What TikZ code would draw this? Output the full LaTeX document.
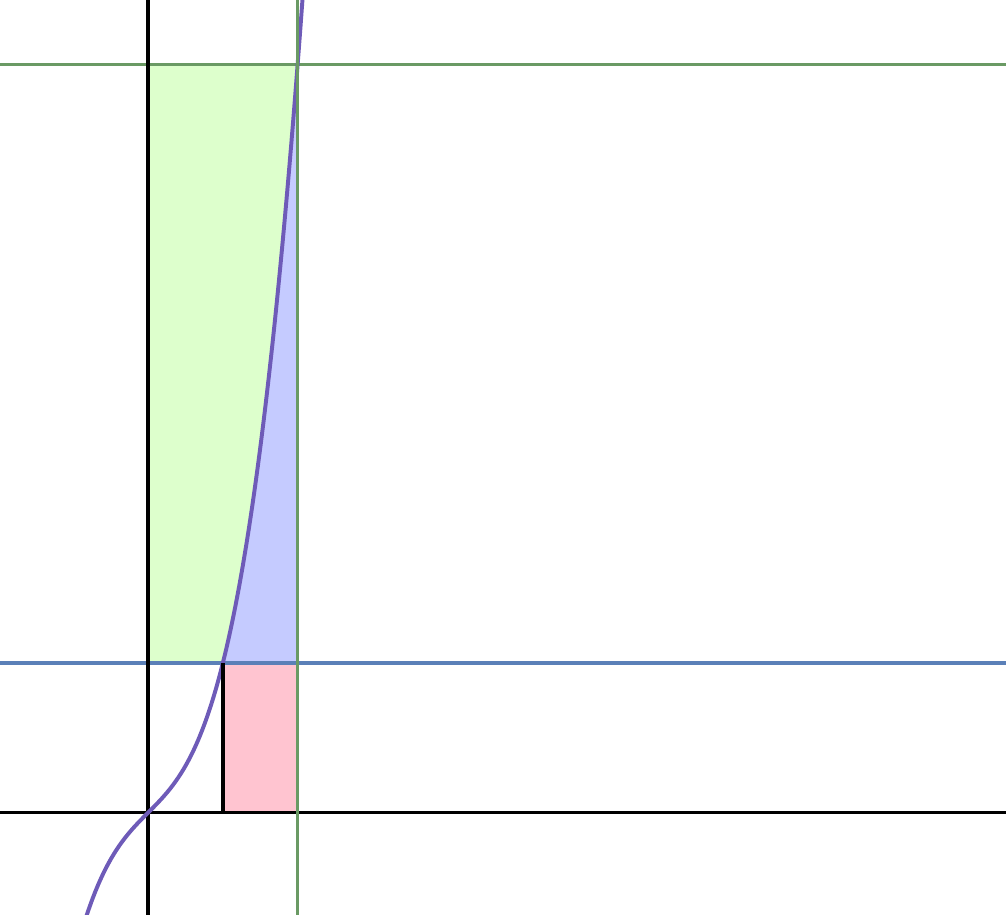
\documentclass[tikz,border=0pt]{standalone}
\usetikzlibrary{calc}
\definecolor{fillgreen}{HTML}{DDFFCC}
\definecolor{fillblue}{HTML}{C5CBFF}
\definecolor{fillpink}{HTML}{FFC4D0}
\definecolor{linegreen}{HTML}{6A9A64}
\definecolor{lineblue}{HTML}{5B80B8}
\definecolor{curvecol}{HTML}{6E5BB8}
\tikzset{
  axis/.style={black, line width=1.3pt},
  gline/.style={linegreen, line width=1.3pt},
  bline/.style={lineblue, line width=1.3pt},
  curve/.style={curvecol, line width=1.5pt},
}
\begin{document}
\begin{tikzpicture}
\useasboundingbox (-1.979,-1.364) rectangle (11.471,10.866);
\coordinate (O) at (0,0);
\coordinate (A) at (1,2);
\coordinate (B) at (2,10);
% fills
\fill[fillgreen] (0,2) -- (1,2) -- plot[domain=1:2, samples=60] (\x,{\x*\x*\x+\x}) -- (0,10) -- cycle;
\fill[fillblue] (1,2) -- plot[domain=1:2, samples=60] (\x,{\x*\x*\x+\x}) -- (2,2) -- cycle;
\fill[fillpink] (1,0) rectangle (2,2);
% lines
\draw[bline] (-1.979,2) -- (11.471,2);
\draw[gline] (-1.979,10) -- (11.471,10);
\draw[axis] (-1.979,0) -- (11.471,0);
\draw[axis] (0,-1.364) -- (0,10.866);
\draw[curve] plot[domain=-0.86:2.09, samples=120] (\x,{\x*\x*\x+\x});
\draw[axis] (1,0) -- (A);
\draw[gline] (2,-1.364) -- (2,10.866);
\end{tikzpicture}
\end{document}
